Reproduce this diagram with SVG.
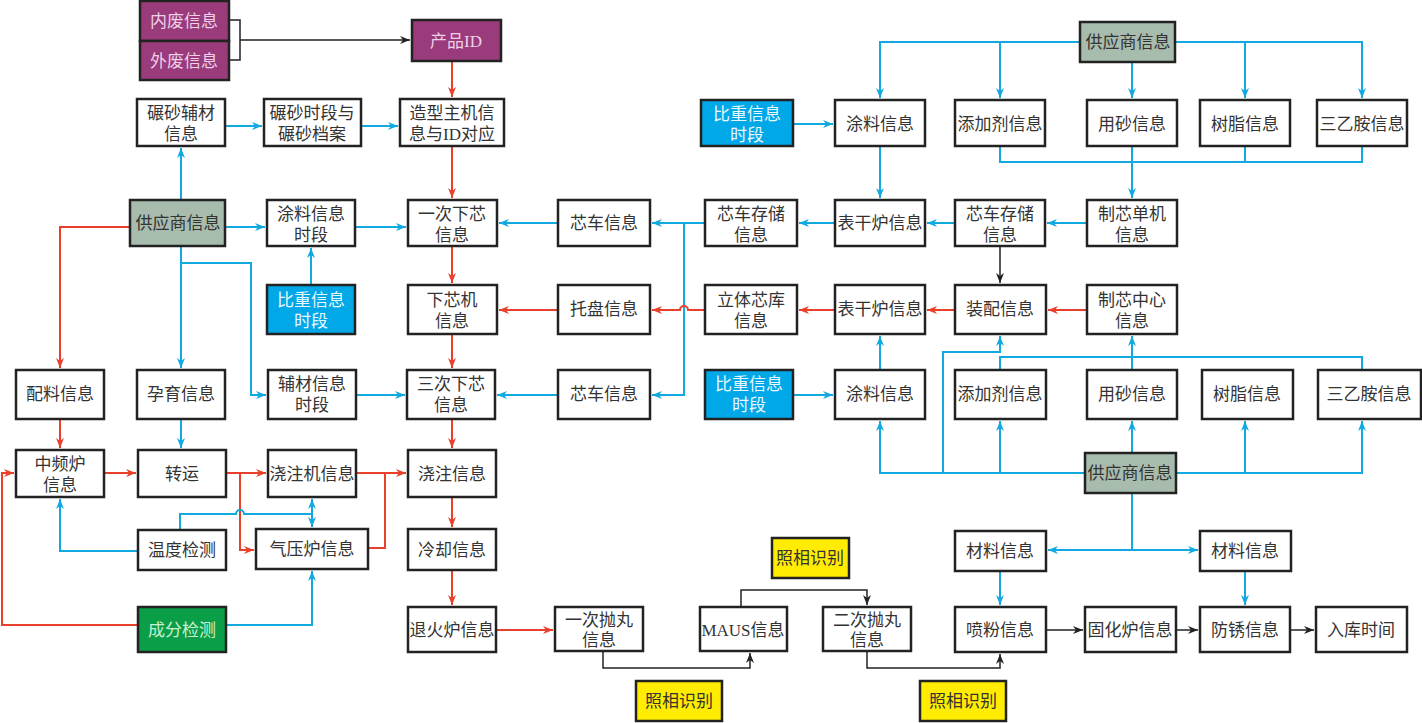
<svg xmlns="http://www.w3.org/2000/svg" width="1422" height="723" viewBox="0 0 1422 723">
<defs>
<marker id="ab" viewBox="0 0 10 8" refX="10" refY="4" markerWidth="10" markerHeight="8" markerUnits="userSpaceOnUse" orient="auto"><path d="M0,0L10,4L0,8L3,4z" fill="#12a8e0"/></marker>
<marker id="ar" viewBox="0 0 10 8" refX="10" refY="4" markerWidth="10" markerHeight="8" markerUnits="userSpaceOnUse" orient="auto"><path d="M0,0L10,4L0,8L3,4z" fill="#e8402a"/></marker>
<marker id="ak" viewBox="0 0 10 8" refX="10" refY="4" markerWidth="10" markerHeight="8" markerUnits="userSpaceOnUse" orient="auto"><path d="M0,0L10,4L0,8L3,4z" fill="#222"/></marker>
<marker id="abs" viewBox="0 0 10 8" refX="0" refY="4" markerWidth="10" markerHeight="8" markerUnits="userSpaceOnUse" orient="auto"><path d="M10,0L0,4L10,8L7,4z" fill="#12a8e0"/></marker>
</defs>
<style>
rect{fill:#fff;stroke:#222;stroke-width:2.5}
text{font-family:"Liberation Serif","Noto Sans CJK SC",serif;font-size:17px;fill:#333;text-anchor:middle}
.p rect{fill:#9a3b7c}.p text{fill:#f0d0e6}
.g rect{fill:#a8bcae}
.c rect{fill:#00a8e8}.c text{fill:#e8f8ff}
.n rect{fill:#0b9e48}.n text{fill:#c8f0d0}
.y rect{fill:#ffec00}
.b{stroke:#12a8e0;stroke-width:2;fill:none}
.r{stroke:#e8402a;stroke-width:2;fill:none}
.k{stroke:#222;stroke-width:1.5;fill:none}
</style>
<rect x="0" y="0" width="1422" height="723" style="fill:#fff;stroke:none"/>
<g id="connectors">
<path class="k" d="M229,20H240V60H229M240,40H410" marker-end="url(#ak)"/>
<path class="r" d="M452,61V97" marker-end="url(#ar)"/>
<path class="r" d="M452,146V198" marker-end="url(#ar)"/>
<path class="r" d="M452,246V283" marker-end="url(#ar)"/>
<path class="r" d="M452,334V368" marker-end="url(#ar)"/>
<path class="r" d="M452,419V448" marker-end="url(#ar)"/>
<path class="r" d="M452,497V527" marker-end="url(#ar)"/>
<path class="r" d="M452,570V605" marker-end="url(#ar)"/>
<path class="r" d="M496,630H553" marker-end="url(#ar)"/>
<path class="b" d="M225,126H262" marker-end="url(#ab)"/>
<path class="b" d="M361,126H398" marker-end="url(#ab)"/>
<path class="b" d="M181,200V148" marker-end="url(#ab)"/>
<path class="b" d="M225,227H265" marker-end="url(#ab)"/>
<path class="b" d="M355,227H406" marker-end="url(#ab)"/>
<path class="b" d="M311,285V248" marker-end="url(#ab)"/>
<path class="b" d="M181,246V368" marker-end="url(#ab)"/>
<path class="b" d="M181,263H251V395H266" marker-end="url(#ab)"/>
<path class="b" d="M356,395H405" marker-end="url(#ab)"/>
<path class="r" d="M130,227H60V368" marker-end="url(#ar)"/>
<path class="r" d="M60,419V448" marker-end="url(#ar)"/>
<path class="r" d="M104,473H136" marker-end="url(#ar)"/>
<path class="r" d="M226,473H266" marker-end="url(#ar)"/>
<path class="r" d="M240,473V550H254" marker-end="url(#ar)"/>
<path class="r" d="M356,473H406" marker-end="url(#ar)"/>
<path class="r" d="M368,548H385V473"/>
<path class="r" d="M138,625H2V473H14" marker-end="url(#ar)"/>
<path class="b" d="M181,419V448" marker-end="url(#ab)"/>
<path class="b" d="M138,551H60V499" marker-end="url(#ab)"/>
<path class="b" d="M180,530V514H236a4,4 0 0 1 8,0H312" />
<path class="b" d="M312,514V499" marker-end="url(#ab)"/>
<path class="b" d="M312,514V527" marker-end="url(#ab)"/>
<path class="b" d="M226,625H312V571" marker-end="url(#ab)"/>
<path class="b" d="M558,223H499" marker-end="url(#ab)"/>
<path class="b" d="M705,223H652" marker-end="url(#ab)"/>
<path class="b" d="M684,223V395H652" marker-end="url(#ab)"/>
<path class="b" d="M558,395H497" marker-end="url(#ab)"/>
<path class="r" d="M705,310H688a4,4 0 0 0 -8,0H652" marker-end="url(#ar)"/>
<path class="r" d="M558,310H499" marker-end="url(#ar)"/>
<path class="b" d="M835,223H799" marker-end="url(#ab)"/>
<path class="b" d="M955,223H927" marker-end="url(#ab)"/>
<path class="b" d="M1087,223H1047" marker-end="url(#ab)"/>
<path class="k" d="M1000,246V283" marker-end="url(#ak)"/>
<path class="r" d="M955,310H927" marker-end="url(#ar)"/>
<path class="r" d="M835,310H799" marker-end="url(#ar)"/>
<path class="r" d="M1087,310H1048" marker-end="url(#ar)"/>
<path class="b" d="M880,146V198" marker-end="url(#ab)"/>
<path class="b" d="M793,124H833" marker-end="url(#ab)"/>
<path class="b" d="M1080,42H880V98" marker-end="url(#ab)"/>
<path class="b" d="M1000,42V98" marker-end="url(#ab)"/>
<path class="b" d="M1132,62V98" marker-end="url(#ab)"/>
<path class="b" d="M1175,42H1362V98" marker-end="url(#ab)"/>
<path class="b" d="M1245,42V98" marker-end="url(#ab)"/>
<path class="b" d="M1000,146V162H1362V146M1245,146V162"/>
<path class="b" d="M1132,146V198" marker-end="url(#ab)"/>
<path class="b" d="M793,395H833" marker-end="url(#ab)"/>
<path class="b" d="M880,370V336" marker-end="url(#ab)"/>
<path class="b" d="M1085,473H880V421" marker-end="url(#ab)"/>
<path class="b" d="M943,473V352H1000V336" marker-end="url(#ab)"/>
<path class="b" d="M1000,473V421" marker-end="url(#ab)"/>
<path class="b" d="M1000,370V357H1362V370"/>
<path class="b" d="M1132,370V336" marker-end="url(#ab)"/>
<path class="b" d="M1132,453V421" marker-end="url(#ab)"/>
<path class="b" d="M1176,473H1362V421" marker-end="url(#ab)"/>
<path class="b" d="M1245,473V421" marker-end="url(#ab)"/>
<path class="b" d="M1132,493V550"/>
<path class="b" d="M1048,550H1198" marker-start="url(#abs)" marker-end="url(#ab)"/>
<path class="b" d="M1000,571V605" marker-end="url(#ab)"/>
<path class="b" d="M1245,571V605" marker-end="url(#ab)"/>
<path class="k" d="M1046,630H1083" marker-end="url(#ak)"/>
<path class="k" d="M1176,630H1198" marker-end="url(#ak)"/>
<path class="k" d="M1290,630H1314" marker-end="url(#ak)"/>
<path class="k" d="M603,651V668H750V653" marker-end="url(#ak)"/>
<path class="k" d="M741,607V590H867V605" marker-end="url(#ak)"/>
<path class="k" d="M867,651V668H1000V654" marker-end="url(#ak)"/>
</g>
<g id="n1" class="p"><rect x="140" y="1" width="89" height="40"/><text x="184" y="27">内废信息</text></g>
<g id="n2" class="p"><rect x="140" y="41" width="89" height="39"/><text x="184" y="67">外废信息</text></g>
<g id="n3" class="p"><rect x="412" y="20" width="89" height="41"/><text x="456" y="47">产品ID</text></g>
<g id="n4"><rect x="137" y="99" width="88" height="47"/><text x="181" y="119">碾砂辅材</text><text x="181" y="140">信息</text></g>
<g id="n5"><rect x="264" y="99" width="97" height="47"/><text x="312" y="119">碾砂时段与</text><text x="312" y="140">碾砂档案</text></g>
<g id="n6"><rect x="400" y="99" width="104" height="47"/><text x="452" y="119">造型主机信</text><text x="452" y="140">息与ID对应</text></g>
<g id="n7" class="g"><rect x="130" y="200" width="95" height="46"/><text x="178" y="229">供应商信息</text></g>
<g id="n8"><rect x="267" y="200" width="88" height="46"/><text x="311" y="220">涂料信息</text><text x="311" y="241">时段</text></g>
<g id="n9"><rect x="408" y="200" width="89" height="46"/><text x="452" y="220">一次下芯</text><text x="452" y="241">信息</text></g>
<g id="n10" class="c"><rect x="267" y="285" width="88" height="49"/><text x="311" y="306">比重信息</text><text x="311" y="327">时段</text></g>
<g id="n11"><rect x="408" y="285" width="89" height="49"/><text x="452" y="306">下芯机</text><text x="452" y="327">信息</text></g>
<g id="n12"><rect x="16" y="370" width="88" height="49"/><text x="60" y="400">配料信息</text></g>
<g id="n13"><rect x="137" y="370" width="88" height="49"/><text x="181" y="400">孕育信息</text></g>
<g id="n14"><rect x="268" y="370" width="88" height="49"/><text x="312" y="390">辅材信息</text><text x="312" y="411">时段</text></g>
<g id="n15"><rect x="407" y="370" width="88" height="49"/><text x="451" y="390">三次下芯</text><text x="451" y="411">信息</text></g>
<g id="n16"><rect x="16" y="450" width="88" height="47"/><text x="60" y="470">中频炉</text><text x="60" y="491">信息</text></g>
<g id="n17"><rect x="138" y="450" width="88" height="47"/><text x="182" y="480">转运</text></g>
<g id="n18"><rect x="268" y="450" width="88" height="47"/><text x="312" y="480">浇注机信息</text></g>
<g id="n19"><rect x="408" y="450" width="88" height="47"/><text x="452" y="480">浇注信息</text></g>
<g id="n20"><rect x="138" y="530" width="88" height="40"/><text x="182" y="556">温度检测</text></g>
<g id="n21"><rect x="256" y="529" width="112" height="40"/><text x="312" y="555">气压炉信息</text></g>
<g id="n22"><rect x="408" y="529" width="88" height="41"/><text x="452" y="556">冷却信息</text></g>
<g id="n23" class="n"><rect x="138" y="607" width="88" height="45"/><text x="182" y="636">成分检测</text></g>
<g id="n24"><rect x="408" y="607" width="88" height="45"/><text x="452" y="636">退火炉信息</text></g>
<g id="n25"><rect x="555" y="607" width="88" height="44"/><text x="599" y="626">一次抛丸</text><text x="599" y="646">信息</text></g>
<g id="n26" class="y"><rect x="772" y="538" width="77" height="40"/><text x="810" y="564">照相识别</text></g>
<g id="n27"><rect x="700" y="607" width="87" height="44"/><text x="743" y="636">MAUS信息</text></g>
<g id="n28"><rect x="823" y="607" width="88" height="44"/><text x="867" y="626">二次抛丸</text><text x="867" y="646">信息</text></g>
<g id="n29" class="y"><rect x="636" y="681" width="86" height="40"/><text x="679" y="707">照相识别</text></g>
<g id="n30" class="y"><rect x="920" y="681" width="86" height="40"/><text x="963" y="707">照相识别</text></g>
<g id="n31"><rect x="558" y="200" width="92" height="46"/><text x="604" y="229">芯车信息</text></g>
<g id="n32"><rect x="558" y="285" width="92" height="49"/><text x="604" y="315">托盘信息</text></g>
<g id="n33"><rect x="558" y="370" width="92" height="49"/><text x="604" y="400">芯车信息</text></g>
<g id="n34"><rect x="705" y="200" width="92" height="46"/><text x="751" y="220">芯车存储</text><text x="751" y="241">信息</text></g>
<g id="n35"><rect x="705" y="285" width="92" height="49"/><text x="751" y="306">立体芯库</text><text x="751" y="327">信息</text></g>
<g id="n36" class="c"><rect x="705" y="370" width="88" height="49"/><text x="749" y="390">比重信息</text><text x="749" y="411">时段</text></g>
<g id="n37" class="c"><rect x="701" y="100" width="92" height="46"/><text x="747" y="120">比重信息</text><text x="747" y="141">时段</text></g>
<g id="n38"><rect x="835" y="100" width="90" height="46"/><text x="880" y="130">涂料信息</text></g>
<g id="n39"><rect x="835" y="200" width="90" height="46"/><text x="880" y="229">表干炉信息</text></g>
<g id="n40"><rect x="835" y="285" width="90" height="49"/><text x="880" y="315">表干炉信息</text></g>
<g id="n41"><rect x="835" y="370" width="90" height="49"/><text x="880" y="400">涂料信息</text></g>
<g id="n42" class="g"><rect x="1080" y="22" width="95" height="40"/><text x="1128" y="48">供应商信息</text></g>
<g id="n43"><rect x="955" y="100" width="90" height="46"/><text x="1000" y="130">添加剂信息</text></g>
<g id="n44"><rect x="1087" y="100" width="90" height="46"/><text x="1132" y="130">用砂信息</text></g>
<g id="n45"><rect x="1200" y="100" width="90" height="46"/><text x="1245" y="130">树脂信息</text></g>
<g id="n46"><rect x="1317" y="100" width="90" height="46"/><text x="1362" y="130">三乙胺信息</text></g>
<g id="n47"><rect x="955" y="200" width="90" height="46"/><text x="1000" y="220">芯车存储</text><text x="1000" y="241">信息</text></g>
<g id="n48"><rect x="1087" y="200" width="90" height="46"/><text x="1132" y="220">制芯单机</text><text x="1132" y="241">信息</text></g>
<g id="n49"><rect x="955" y="285" width="91" height="49"/><text x="1000" y="315">装配信息</text></g>
<g id="n50"><rect x="1087" y="285" width="90" height="49"/><text x="1132" y="306">制芯中心</text><text x="1132" y="327">信息</text></g>
<g id="n51"><rect x="955" y="370" width="91" height="49"/><text x="1000" y="400">添加剂信息</text></g>
<g id="n52"><rect x="1087" y="370" width="90" height="49"/><text x="1132" y="400">用砂信息</text></g>
<g id="n53"><rect x="1202" y="370" width="91" height="49"/><text x="1247" y="400">树脂信息</text></g>
<g id="n54"><rect x="1318" y="370" width="103" height="49"/><text x="1369" y="400">三乙胺信息</text></g>
<g id="n55" class="g"><rect x="1085" y="453" width="91" height="40"/><text x="1130" y="479">供应商信息</text></g>
<g id="n56"><rect x="955" y="531" width="91" height="40"/><text x="1000" y="557">材料信息</text></g>
<g id="n57"><rect x="1200" y="531" width="91" height="40"/><text x="1245" y="557">材料信息</text></g>
<g id="n58"><rect x="955" y="607" width="91" height="45"/><text x="1000" y="636">喷粉信息</text></g>
<g id="n59"><rect x="1085" y="607" width="91" height="45"/><text x="1130" y="636">固化炉信息</text></g>
<g id="n60"><rect x="1200" y="607" width="90" height="45"/><text x="1245" y="636">防锈信息</text></g>
<g id="n61"><rect x="1316" y="607" width="91" height="45"/><text x="1361" y="636">入库时间</text></g>
</svg>
